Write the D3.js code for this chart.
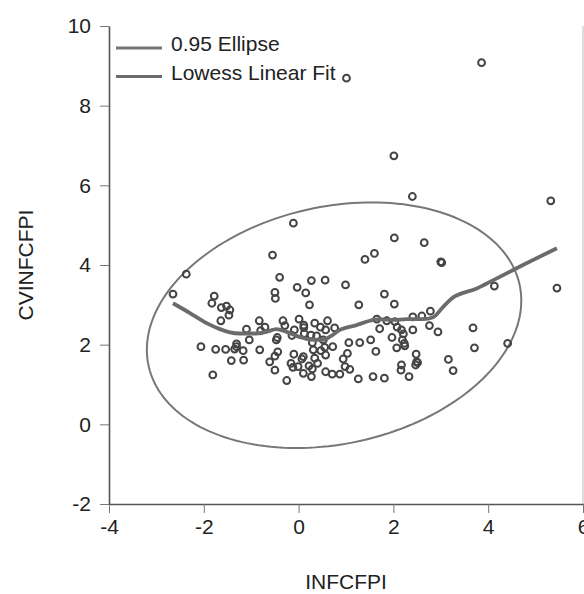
<!DOCTYPE html>
<html>
<head>
<meta charset="utf-8">
<script src="https://cdn.jsdelivr.net/npm/d3@7"></script>
<style>
  body { margin: 0; background: #fff; }
  text { font-family: "Liberation Sans", Arial, sans-serif; fill: #222; }
</style>
</head>
<body>
<script>
// scatter values
const infcfpi = [-0.55,-2.37,-2.65,-0.40,-0.03,-0.50,-0.49,-1.78,-1.83,-1.63,-1.52,-1.45,-1.47,-1.64,-0.83,-1.10,-0.80,-0.71,-0.33,-0.29,
  -0.09,-0.14,0.01,-1.04,-0.45,-0.47,-2.06,-1.75,-1.54,-1.31,-1.31,-1.35,-1.17,-0.82,-0.44,-0.50,-0.61,-0.10,-1.42,-1.16,
  -0.16,-0.12,-0.01,-0.50,-1.81,-0.25,2.02,2.65,1.40,1.60,3.00,3.02,0.27,0.56,0.99,0.15,0.23,1.27,1.81,2.02,
  0.11,0.11,0.34,0.46,0.61,0.57,0.76,0.12,0.26,0.38,0.52,0.29,0.55,0.72,1.06,1.29,1.52,0.31,0.47,0.57,
  0.10,0.07,0.34,1.03,0.94,1.63,1.71,1.65,1.86,2.03,2.08,1.97,2.17,2.21,2.19,2.23,2.07,2.24,2.41,2.60,
  2.78,2.41,2.76,2.94,2.48,2.49,2.47,2.51,2.17,2.16,2.33,0.10,0.22,0.29,0.27,0.40,0.57,0.71,0.87,0.98,
  1.08,1.26,1.57,1.81,3.16,4.13,5.45,3.68,3.71,4.41,3.26,2.01,2.40,5.32,-0.11,3.86,1.01];
const cvinfcfpi = [4.25,3.77,3.27,3.69,3.44,3.31,3.16,3.22,3.04,2.93,2.97,2.87,2.74,2.60,2.60,2.39,2.35,2.44,2.60,2.48,
  2.37,2.23,2.64,2.12,2.18,2.12,1.95,1.88,1.88,2.02,1.95,1.89,1.85,1.87,1.82,1.71,1.57,1.76,1.60,1.61,
  1.53,1.43,1.45,1.36,1.24,1.10,4.68,4.56,4.14,4.29,4.08,4.06,3.61,3.62,3.50,3.30,3.00,3.00,3.27,3.02,
  2.49,2.43,2.54,2.44,2.60,2.37,2.42,2.28,2.24,2.22,2.12,2.05,1.93,1.95,2.05,2.05,2.12,1.87,1.85,1.74,
  1.70,1.64,1.66,1.78,1.64,1.83,2.40,2.64,2.60,2.58,2.44,2.18,2.37,2.27,2.12,2.03,1.92,1.97,2.70,2.72,
  2.84,2.37,2.48,2.32,1.76,1.57,1.49,1.55,1.49,1.36,1.20,1.28,1.47,1.39,1.20,1.53,1.32,1.26,1.26,1.45,
  1.38,1.14,1.20,1.16,1.63,3.47,3.42,2.42,1.92,2.03,1.35,6.74,5.72,5.61,5.05,9.08,8.69];

// lowess fit curve
const lowessX = [-2.65,-2.30,-1.94,-1.66,-1.45,-1.24,-0.89,-0.68,-0.47,-0.25,0.03,0.24,0.52,0.66,0.87,1.22,1.50,1.71,2.00,2.28,2.63,2.84,3.05,3.23,3.76,4.11,4.60,5.45];
const lowessY = [3.04,2.80,2.54,2.39,2.31,2.28,2.28,2.32,2.39,2.32,2.19,2.13,2.12,2.20,2.37,2.49,2.60,2.64,2.62,2.64,2.64,2.69,2.95,3.16,3.41,3.62,3.92,4.42];

const xTicks = [-4, -2, 0, 2, 4, 6];
const yTicks = [-2, 0, 2, 4, 6, 8, 10];
const legendLabels = ["0.95 Ellipse", "Lowess Linear Fit"];

const W = 584, H = 594;
const svg = d3.select("body").append("svg")
  .attr("width", W)
  .attr("height", H);

const x = d3.scaleLinear().domain([-4, 6]).range([109, 583]);
const y = d3.scaleLinear().domain([-2, 10]).range([504, 26]);

// frame line on the right
svg.append("line")
  .attr("x1", 583).attr("x2", 583)
  .attr("y1", 26).attr("y2", 504)
  .attr("stroke", "#bbb").attr("stroke-width", 1);

// axes (plain hyphen for negatives, like the original)
const fmt = d => String(d);
const gx = svg.append("g")
  .attr("transform", "translate(0,504)")
  .call(d3.axisBottom(x).tickValues(xTicks).tickFormat(fmt).tickSize(9).tickSizeOuter(0).tickPadding(6));
const gy = svg.append("g")
  .attr("transform", "translate(109,0)")
  .call(d3.axisLeft(y).tickValues(yTicks).tickFormat(fmt).tickSize(9).tickSizeOuter(0).tickPadding(9));
[gx, gy].forEach(g => {
  g.select(".domain").attr("stroke", "#555").attr("stroke-width", 1.6);
  g.selectAll(".tick line").attr("stroke", "#777").attr("stroke-width", 1);
  g.selectAll(".tick text")
    .style("font-family", "'Liberation Sans', Arial, sans-serif")
    .style("font-size", "21px")
    .attr("fill", "#222");
});

// axis titles
svg.append("text")
  .attr("x", 346).attr("y", 589)
  .attr("text-anchor", "middle")
  .style("font-size", "21px")
  .text("INFCFPI");
svg.append("text")
  .attr("transform", "translate(33,265) rotate(-90)")
  .attr("text-anchor", "middle")
  .style("font-size", "21px")
  .text("CVINFCFPI");

// 0.95 ellipse from mean and covariance of the points
const n = infcfpi.length;
const mx = d3.mean(infcfpi), my = d3.mean(cvinfcfpi);
let sxx = 0, syy = 0, sxy = 0;
for (let i = 0; i < n; i++) {
  const dx = infcfpi[i] - mx, dy = cvinfcfpi[i] - my;
  sxx += dx * dx; syy += dy * dy; sxy += dx * dy;
}
sxx /= (n - 1); syy /= (n - 1); sxy /= (n - 1);
const tr = sxx + syy, det = sxx * syy - sxy * sxy;
const l1 = tr / 2 + Math.sqrt(tr * tr / 4 - det), l2 = tr / 2 - Math.sqrt(tr * tr / 4 - det);
const ang = Math.atan2(l1 - sxx, sxy);
const k = Math.sqrt(5.991);
const ellipsePts = d3.range(0, 2 * Math.PI + 0.01, Math.PI / 90).map(t => {
  const a = k * Math.sqrt(l1) * Math.cos(t), b = k * Math.sqrt(l2) * Math.sin(t);
  return [mx + a * Math.cos(ang) - b * Math.sin(ang), my + a * Math.sin(ang) + b * Math.cos(ang)];
});
svg.append("path")
  .datum(ellipsePts)
  .attr("d", d3.line().x(d => x(d[0])).y(d => y(d[1])))
  .attr("fill", "none")
  .attr("stroke", "#777")
  .attr("stroke-width", 2);

// points
svg.selectAll(".pt")
  .data(infcfpi.map((v, i) => [v, cvinfcfpi[i]]))
  .enter()
  .append("circle")
  .attr("class", "pt")
  .attr("cx", d => x(d[0]))
  .attr("cy", d => y(d[1]))
  .attr("r", 3.4)
  .attr("fill", "none")
  .attr("stroke", "#444")
  .attr("stroke-width", 2);

// lowess line
svg.append("path")
  .datum(lowessX.map((v, i) => [v, lowessY[i]]))
  .attr("d", d3.line().x(d => x(d[0])).y(d => y(d[1])).curve(d3.curveMonotoneX))
  .attr("fill", "none")
  .attr("stroke", "#6b6b6b")
  .attr("stroke-width", 3.8);

// legend
const leg = svg.append("g");
legendLabels.forEach((lab, i) => {
  leg.append("line")
    .attr("x1", 116).attr("x2", 162)
    .attr("y1", 48 + i * 28.5).attr("y2", 48 + i * 28.5)
    .attr("stroke", i === 0 ? "#777" : "#6b6b6b")
    .attr("stroke-width", 3);
  leg.append("text")
    .attr("x", 171).attr("y", 51 + i * 28.5)
    .style("font-size", "21px")
    .text(lab);
});
</script>
</body>
</html>
